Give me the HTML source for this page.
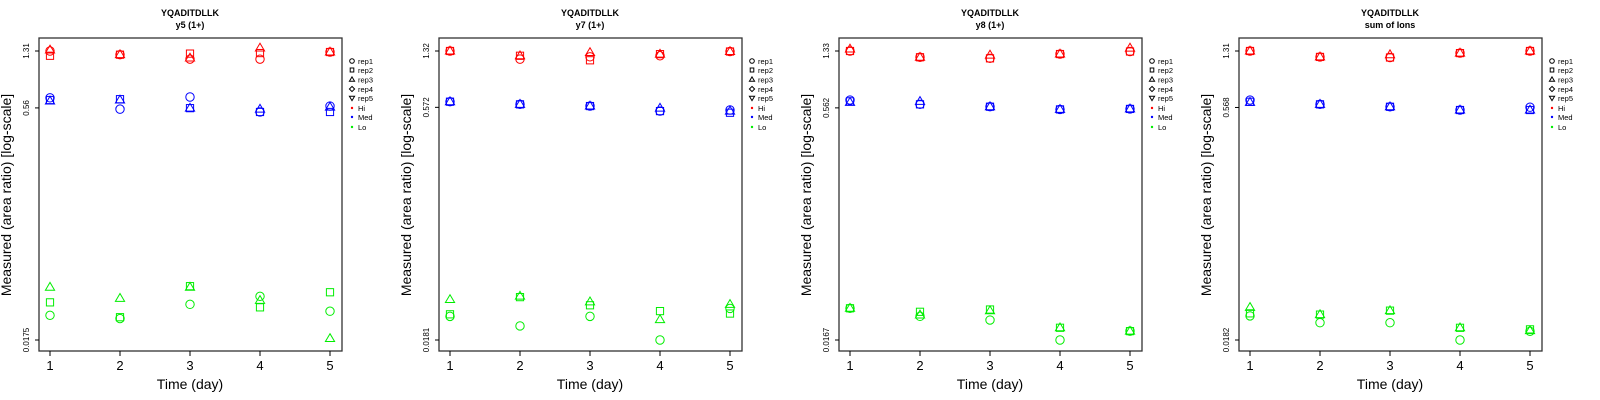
<!DOCTYPE html>
<html><head><meta charset="utf-8">
<style>
html,body{margin:0;padding:0;background:#fff;width:1600px;height:400px;overflow:hidden}
svg{display:block;font-family:"Liberation Sans",sans-serif}
</style></head>
<body>
<svg id="chart" width="1600" height="400" viewBox="0 0 1600 400" xmlns="http://www.w3.org/2000/svg"></svg>
<script>
// ---- data ----
const days = [1, 2, 3, 4, 5];
const panelTitles = ["y5 (1+)", "y7 (1+)", "y8 (1+)", "sum of Ions"];
const peptide = "YQADITDLLK";
const tickTop = [1.31, 1.32, 1.33, 1.31];
const tickMid = [0.56, 0.572, 0.562, 0.568];
const tickBot = [0.0175, 0.0181, 0.0167, 0.0182];
const tickTopLabels = ["1.31", "1.32", "1.33", "1.31"];
const tickMidLabels = ["0.56", "0.572", "0.562", "0.568"];
const tickBotLabels = ["0.0175", "0.0181", "0.0167", "0.0182"];
const levels = ["Hi", "Med", "Lo"];
const reps = ["rep1", "rep2", "rep3"];
// panel 1 (y5)
const p1HiRep1 = [1.31, 1.24, 1.16, 1.16, 1.29];
const p1HiRep2 = [1.22, 1.24, 1.26, 1.27, 1.29];
const p1HiRep3 = [1.33, 1.24, 1.18, 1.37, 1.29];
const p1MedRep1 = [0.651, 0.550, 0.659, 0.527, 0.576];
const p1MedRep2 = [0.630, 0.638, 0.558, 0.527, 0.527];
const p1MedRep3 = [0.621, 0.630, 0.558, 0.550, 0.567];
const p1LoRep1 = [0.0253, 0.0241, 0.0298, 0.0336, 0.0269];
const p1LoRep2 = [0.0307, 0.0246, 0.0391, 0.0285, 0.0357];
const p1LoRep3 = [0.0385, 0.0326, 0.0385, 0.0316, 0.0179];
// panel 2 (y7)
const p2HiRep1 = [1.32, 1.17, 1.21, 1.23, 1.31];
const p2HiRep2 = [1.32, 1.23, 1.15, 1.26, 1.31];
const p2HiRep3 = [1.32, 1.23, 1.29, 1.26, 1.31];
const p2MedRep1 = [0.622, 0.598, 0.583, 0.541, 0.550];
const p2MedRep2 = [0.622, 0.598, 0.583, 0.541, 0.528];
const p2MedRep3 = [0.622, 0.598, 0.583, 0.565, 0.541];
const p2LoRep1 = [0.0257, 0.0223, 0.0257, 0.0181, 0.0289];
const p2LoRep2 = [0.0265, 0.0342, 0.0303, 0.0278, 0.0268];
const p2LoRep3 = [0.0330, 0.0347, 0.0319, 0.0245, 0.0307];
// panel 3 (y8)
const p3HiRep1 = [1.33, 1.21, 1.19, 1.27, 1.32];
const p3HiRep2 = [1.33, 1.21, 1.19, 1.27, 1.32];
const p3HiRep3 = [1.37, 1.21, 1.25, 1.27, 1.39];
const p3MedRep1 = [0.633, 0.593, 0.572, 0.549, 0.553];
const p3MedRep2 = [0.620, 0.593, 0.572, 0.549, 0.553];
const p3MedRep3 = [0.611, 0.620, 0.572, 0.549, 0.553];
const p3LoRep1 = [0.0270, 0.0239, 0.0226, 0.0167, 0.0191];
const p3LoRep2 = [0.0270, 0.0256, 0.0265, 0.0201, 0.0191];
const p3LoRep3 = [0.0270, 0.0244, 0.0260, 0.0201, 0.0191];
// panel 4 (sum of ions)
const p4HiRep1 = [1.31, 1.20, 1.19, 1.27, 1.31];
const p4HiRep2 = [1.31, 1.20, 1.19, 1.27, 1.31];
const p4HiRep3 = [1.31, 1.20, 1.24, 1.27, 1.31];
const p4MedRep1 = [0.634, 0.595, 0.574, 0.547, 0.570];
const p4MedRep2 = [0.618, 0.595, 0.574, 0.547, 0.547];
const p4MedRep3 = [0.613, 0.595, 0.574, 0.547, 0.547];
const p4LoRep1 = [0.0260, 0.0235, 0.0235, 0.0182, 0.0207];
const p4LoRep2 = [0.0270, 0.0265, 0.0281, 0.0218, 0.0213];
const p4LoRep3 = [0.0295, 0.0265, 0.0281, 0.0218, 0.0209];

const panels = [
  [[p1HiRep1,p1HiRep2,p1HiRep3],[p1MedRep1,p1MedRep2,p1MedRep3],[p1LoRep1,p1LoRep2,p1LoRep3]],
  [[p2HiRep1,p2HiRep2,p2HiRep3],[p2MedRep1,p2MedRep2,p2MedRep3],[p2LoRep1,p2LoRep2,p2LoRep3]],
  [[p3HiRep1,p3HiRep2,p3HiRep3],[p3MedRep1,p3MedRep2,p3MedRep3],[p3LoRep1,p3LoRep2,p3LoRep3]],
  [[p4HiRep1,p4HiRep2,p4HiRep3],[p4MedRep1,p4MedRep2,p4MedRep3],[p4LoRep1,p4LoRep2,p4LoRep3]]
];
const colors = ["#ff0000", "#0000ff", "#00ee00"];

const NS = "http://www.w3.org/2000/svg";
const svg = document.getElementById("chart");
function mk(tag, attrs, parent, text) {
  const e = document.createElementNS(NS, tag);
  for (const k in attrs) e.setAttribute(k, attrs[k]);
  if (text !== undefined) e.textContent = text;
  (parent || svg).appendChild(e);
  return e;
}
function marker(g, shape, x, y, color) {
  let e;
  if (shape === 0) e = mk("circle", {cx:x, cy:y, r:4.2, fill:"none", stroke:color, "stroke-width":1}, g);
  else if (shape === 1) e = mk("rect", {x:x-3.6, y:y-3.6, width:7.2, height:7.2, fill:"none", stroke:color, "stroke-width":1}, g);
  else e = mk("polygon", {points:`${x},${y-4.8} ${x+4.6},${y+3} ${x-4.6},${y+3}`, fill:"none", stroke:color, "stroke-width":1}, g);
  return e;
}

const PL = 39, PR = 342, PT = 38, PB = 351, YT = 51, YB = 340;
panels.forEach((pdata, i) => {
  const ox = i * 400;
  const g = mk("g", {transform:`translate(${ox},0)`});
  
  
  const lt = Math.log10(tickTop[i]), lb = Math.log10(tickBot[i]);
  const yS = v => YT + (lt - Math.log10(v)) / (lt - lb) * (YB - YT);
  const xS = d => 50 + (d - 1) * 70;

  const t1 = mk("text", {x:190, y:16, "text-anchor":"middle", "font-size":"9", "font-weight":"bold"}, g, peptide);
  
  
  const t2 = mk("text", {x:190, y:28, "text-anchor":"middle", "font-size":"9", "font-weight":"bold"}, g, panelTitles[i]);
  
  

  // points
  pdata.forEach((lev, li) => {
    lev.forEach((series, ri) => {
      series.forEach((v, di) => {
        const m = marker(g, ri, xS(days[di]), yS(v), colors[li]);
        
        
      });
    });
  });

  const box = mk("rect", {x:PL, y:PT, width:PR-PL, height:PB-PT, fill:"none", stroke:"#333", "stroke-width":1.3}, g);
  
  

  // y ticks
  [[tickTop[i], tickTopLabels[i]], [tickMid[i], tickMidLabels[i]], [tickBot[i], tickBotLabels[i]]].forEach(([v, lab]) => {
    const y = yS(v);
    mk("line", {x1:PL-4, x2:PL, y1:y, y2:y, stroke:"#000", "stroke-width":1}, g);
    const t = mk("text", {x:0, y:0, transform:`translate(29,${y}) rotate(-90)`, "text-anchor":"middle", "font-size":"8"}, g, lab);
    
    
  });
  const yt = mk("text", {x:0, y:0, transform:`translate(11,195) rotate(-90)`, "text-anchor":"middle", "font-size":"14"}, g, "Measured (area ratio) [log-scale]");
  
  

  // x ticks
  days.forEach(d => {
    const x = xS(d);
    mk("line", {x1:x, x2:x, y1:PB, y2:PB+5, stroke:"#000", "stroke-width":1}, g);
    const t = mk("text", {x:x, y:370, "text-anchor":"middle", "font-size":"13"}, g, String(d));
    
    
  });
  const xt = mk("text", {x:190, y:389, "text-anchor":"middle", "font-size":"14"}, g, "Time (day)");
  
  

  // legend
  const lg = mk("g", {}, g);
  
  
  const legLabels = ["rep1","rep2","rep3","rep4","rep5","Hi","Med","Lo"];
  const legY = [61, 70, 79.5, 89, 98, 108, 117, 127];
  legLabels.forEach((lab, k) => {
    const y = legY[k];
    const sx = 352;
    if (k === 0) mk("circle", {cx:sx, cy:y, r:2.3, fill:"none", stroke:"#000", "stroke-width":1}, lg);
    else if (k === 1) mk("rect", {x:sx-1.8, y:y-2, width:3.6, height:4, fill:"none", stroke:"#000", "stroke-width":1}, lg);
    else if (k === 2) mk("polygon", {points:`${sx},${y-2.6} ${sx+2.6},${y+1.8} ${sx-2.6},${y+1.8}`, fill:"none", stroke:"#000", "stroke-width":1}, lg);
    else if (k === 3) mk("polygon", {points:`${sx},${y-2.6} ${sx+2.6},${y} ${sx},${y+2.6} ${sx-2.6},${y}`, fill:"none", stroke:"#000", "stroke-width":1}, lg);
    else if (k === 4) mk("polygon", {points:`${sx},${y+2.6} ${sx+2.6},${y-1.8} ${sx-2.6},${y-1.8}`, fill:"none", stroke:"#000", "stroke-width":1}, lg);
    else mk("circle", {cx:sx, cy:y, r:1.2, fill:colors[k-5]}, lg);
    const t = mk("text", {x:358, y:y+2.8, "font-size":"7.5"}, lg, lab);
    
    
  });
});
</script>
</body></html>
